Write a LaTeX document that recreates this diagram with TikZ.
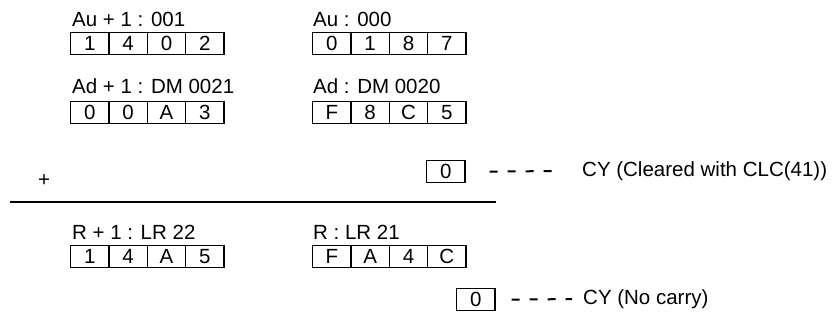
\documentclass[tikz,border=0pt]{standalone}
\usepackage{fontspec}
\setmainfont{Liberation Sans}
\usetikzlibrary{positioning}

\begin{document}
\begin{tikzpicture}[x=1pt, y=-1pt, font=\fontsize{20.5}{24}\selectfont,
   cell/.style={draw, line width=1.4pt, minimum width=38.3pt, minimum height=22pt, inner sep=0pt, anchor=north west},
   tag/.style={inner sep=0pt, anchor=base west},
   cydash/.style={line width=2pt, dash pattern=on 8pt off 10pt}]
  \useasboundingbox (0,0) rectangle (840,320);
  % upper words Au+1 / Au
  \node[tag] (auhi) at (72,27) {Au + 1 : 001};
  \node[tag] (aulo) at (313,27) {Au : 000};
  \foreach \d [count=\i] in {1,4,0,2}
    \node[cell] (auhi\i) at ({70+38.3*(\i-1)},32) {\d};
  \foreach \d [count=\i] in {0,1,8,7}
    \node[cell] (aulo\i) at ({312+38.3*(\i-1)},32) {\d};
  % lower words Ad+1 / Ad
  \node[tag] (adhi) at (72,94) {Ad + 1 : DM 0021};
  \node[tag] (adlo) at (313,94) {Ad : DM 0020};
  \foreach \d [count=\i] in {0,0,A,3}
    \node[cell] (adhi\i) at ({70+38.3*(\i-1)},101) {\d};
  \foreach \d [count=\i] in {F,8,C,5}
    \node[cell] (adlo\i) at ({312+38.3*(\i-1)},101) {\d};
  % carry in
  \node[cell] (cyin) at (426,160) {0};
  \node[tag, anchor=west] (cyintxt) at (582,171) {CY (Cleared with CLC(41))};
  \draw[cydash] ([xshift=24pt]cyin.east) -- ([xshift=-30pt]cyintxt.west);
  \node[inner sep=0pt] (plus) at (44,181) {+};
  \draw[line width=2pt] (10,202) -- (496,202);
  % result R+1 / R
  \node[tag] (rhi) at (72,240) {R + 1 : LR 22};
  \node[tag] (rlo) at (313,240) {R : LR 21};
  \foreach \d [count=\i] in {1,4,A,5}
    \node[cell] (rhi\i) at ({70+38.3*(\i-1)},245) {\d};
  \foreach \d [count=\i] in {F,A,4,C}
    \node[cell] (rlo\i) at ({312+38.3*(\i-1)},245) {\d};
  % carry out
  \node[cell] (cyout) at (456,288) {0};
  \node[tag, anchor=west] (cyouttxt) at (583,299) {CY (No carry)};
  \draw[cydash] ([xshift=16pt]cyout.east) -- ([xshift=-11pt]cyouttxt.west);
\end{tikzpicture}
\end{document}
